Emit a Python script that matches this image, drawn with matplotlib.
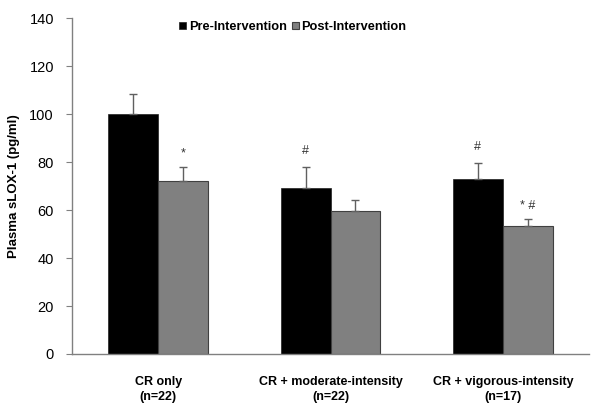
import matplotlib
matplotlib.use("Agg")
import matplotlib.pyplot as plt
import numpy as np

plt.rcParams['font.family'] = ['Liberation Sans', 'DejaVu Sans']

categories = ["CR only\n(n=22)", "CR + moderate-intensity\n(n=22)", "CR + vigorous-intensity\n(n=17)"]
pre = [100.0, 69.3, 72.8]
post = [72.0, 59.7, 53.3]
pre_err = [8.3, 8.7, 6.8]
post_err = [6.0, 4.3, 2.8]
pre_marks = ["", "#", "#"]
post_marks = ["*", "", "* #"]
series_names = ["Pre-Intervention", "Post-Intervention"]
yticks = [0, 20, 40, 60, 80, 100, 120, 140]

fig = plt.figure(figsize=(6.0, 4.11), dpi=100)
ax = fig.add_axes([0.12, 0.1387, 0.8617, 0.8173])

x = np.arange(len(categories))
w = 0.29
ekw = dict(ecolor='#606060', elinewidth=1.0, capsize=3, capthick=1.0)
b1 = ax.bar(x - w/2, pre, w, color='black', edgecolor='#202020', linewidth=0.5,
            yerr=[np.zeros(3), pre_err], error_kw=ekw, label=series_names[0])
b2 = ax.bar(x + w/2, post, w, color='#808080', edgecolor='#404040', linewidth=0.8,
            yerr=[np.zeros(3), post_err], error_kw=ekw, label=series_names[1])

for i in range(3):
    if pre_marks[i]:
        ax.text(x[i] - w/2, pre[i] + pre_err[i] + 4, pre_marks[i], ha='center', va='bottom',
                fontsize=9, color='#333333')
    if post_marks[i]:
        ax.text(x[i] + w/2, post[i] + post_err[i] + 3, post_marks[i], ha='center', va='bottom',
                fontsize=9, color='#333333')

ax.set_xlim(-0.5, 2.5)
ax.set_ylim(0, 140)
ax.set_yticks(yticks)
ax.set_yticklabels([str(v) for v in yticks], fontsize=10.5)
ax.set_xticks(x)
ax.set_xticklabels(categories, fontsize=9, fontweight='bold', linespacing=1.3)
ax.tick_params(axis='x', length=0, pad=16)
ax.tick_params(axis='y', length=4, color='#808080', pad=9)
for s in ['top', 'right']:
    ax.spines[s].set_visible(False)
for s in ['left', 'bottom']:
    ax.spines[s].set_color('#808080')
    ax.spines[s].set_linewidth(1.0)

ax.set_ylabel("Plasma sLOX-1 (pg/ml)", fontsize=9.5, fontweight='bold', labelpad=7)

leg = ax.legend(handles=[b1, b2], loc='center', bbox_to_anchor=(0.427, 0.973), ncol=2,
                frameon=False, prop={'size': 9.2, 'weight': 'bold'}, handlelength=0.55,
                handleheight=0.55, handletextpad=0.2, columnspacing=0.4,
                borderpad=0.0)

fig.savefig("out.png", dpi=100)
